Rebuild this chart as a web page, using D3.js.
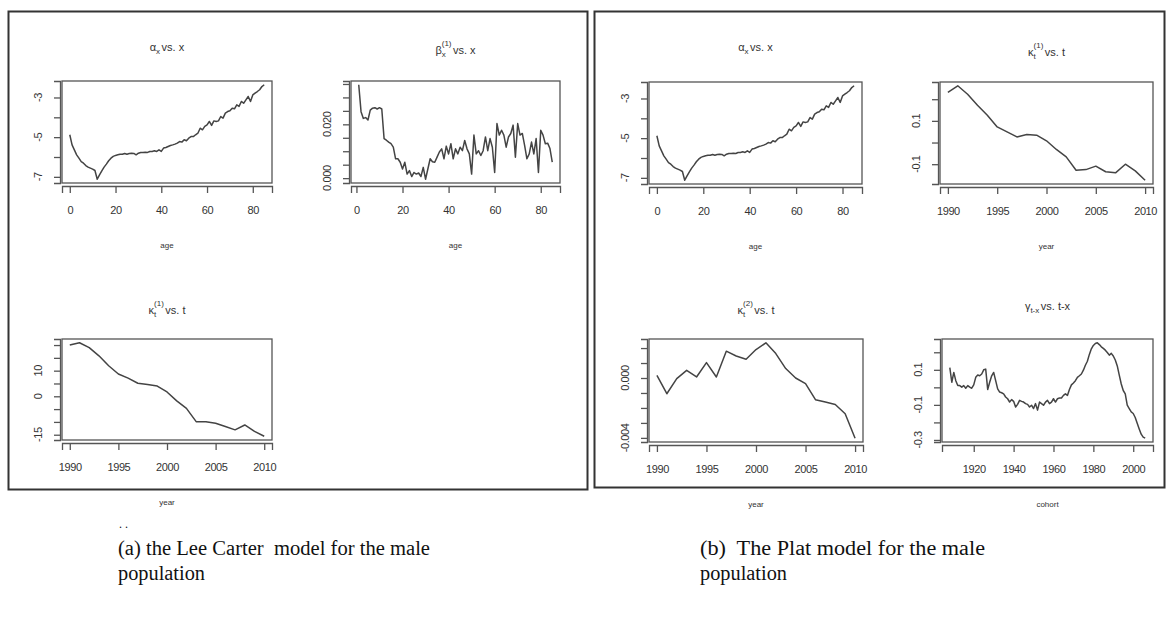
<!DOCTYPE html>
<html>
<head>
<meta charset="utf-8">
<script src="https://cdn.jsdelivr.net/npm/d3@7"></script>
<style>
  body { margin: 0; background: #fff; }
  text { font-family: "Liberation Sans", Arial, sans-serif; fill: #333; }
  .cap { font-family: "Liberation Serif", "Times New Roman", serif; fill: #111; white-space: pre; }
</style>
</head>
<body>
<div id="chart"></div>
<script>
const width = 1171, height = 619;

// ---- data ----
const ageTicks = [0, 20, 40, 60, 80];
const yearTicks = [1990, 1995, 2000, 2005, 2010];
const cohortTicks = [1920, 1940, 1960, 1980, 2000];

const ages0 = d3.range(0, 86);     // alpha: ages 0..85
const ages1 = d3.range(1, 86);     // beta: ages 1..85
const years = d3.range(1990, 2011);
const cohorts = d3.range(1908, 2007);

const alphaX = [
  -4.88,-5.39,-5.64,-5.89,-6.06,-6.23,-6.31,-6.43,-6.51,-6.56,
  -6.61,-6.68,-7.12,-6.90,-6.70,-6.51,-6.36,-6.19,-6.06,-5.97,
  -5.92,-5.89,-5.86,-5.86,-5.82,-5.86,-5.82,-5.81,-5.82,-5.89,
  -5.81,-5.77,-5.77,-5.76,-5.77,-5.72,-5.72,-5.69,-5.72,-5.64,
  -5.72,-5.55,-5.52,-5.47,-5.42,-5.39,-5.35,-5.30,-5.22,-5.25,
  -5.13,-5.18,-5.05,-4.97,-4.97,-4.88,-4.80,-4.55,-4.63,-4.46,
  -4.38,-4.21,-4.41,-4.18,-4.21,-4.18,-3.96,-4.04,-3.79,-3.71,
  -3.67,-3.54,-3.57,-3.37,-3.45,-3.20,-3.29,-3.12,-2.95,-3.20,
  -2.87,-2.78,-2.70,-2.61,-2.45,-2.36
];

const betaX = [
  0.0347,0.0247,0.0222,0.0225,0.0216,0.0253,0.0260,0.0262,0.0257,0.0262,
  0.0257,0.0147,0.0141,0.0134,0.0128,0.0115,0.0072,0.0072,0.0059,0.0034,
  0.0059,0.0015,0.0028,0.0006,0.0021,0.0015,0.0019,0.0006,0.0040,-0.0004,
  0.0034,0.0072,0.0061,0.0059,0.0078,0.0097,0.0109,0.0072,0.0119,0.0090,
  0.0128,0.0072,0.0109,0.0090,0.0115,0.0102,0.0140,0.0109,0.0090,0.0015,
  0.0160,0.0090,0.0102,0.0084,0.0102,0.0153,0.0102,0.0147,0.0115,0.0021,
  0.0203,0.0160,0.0178,0.0160,0.0115,0.0153,0.0166,0.0197,0.0078,0.0203,
  0.0160,0.0166,0.0122,0.0072,0.0090,0.0134,0.0090,0.0147,0.0021,0.0178,
  0.0160,0.0128,0.0130,0.0110,0.0060
];

const kappaLC = [20.0,20.9,19.0,15.8,11.9,8.7,7.1,5.1,4.6,4.0,1.7,
  -1.8,-4.7,-9.9,-9.9,-10.5,-11.8,-13.1,-11.2,-13.7,-15.6];

const kappa1Plat = [0.231,0.262,0.223,0.172,0.126,0.072,0.049,0.026,0.037,0.034,0.008,
  -0.032,-0.066,-0.128,-0.125,-0.109,-0.135,-0.140,-0.100,-0.131,-0.174];

const kappa2Plat = [0.00018,-0.00105,-0.00004,0.00051,0.00007,0.00103,0.00007,0.00179,
  0.00147,0.00125,0.00190,0.00235,0.00163,0.00063,0.00000,-0.00038,-0.00145,-0.00161,
  -0.00177,-0.00239,-0.00402];

const gammaPlat = [
  0.113,0.029,0.085,0.038,0.010,0.010,0.001,0.010,-0.005,0.010,   // 1908-1917
  0.001,-0.005,0.014,0.057,0.070,0.066,0.076,0.100,0.104,-0.012,  // 1918-1927
  0.029,0.066,0.085,0.038,-0.009,-0.027,-0.031,-0.037,-0.055,-0.065, // 1928-1937
  -0.084,-0.070,-0.080,-0.112,-0.097,-0.074,-0.080,-0.084,-0.093,-0.097, // 1938-1947
  -0.112,-0.102,-0.121,-0.093,-0.130,-0.084,-0.093,-0.102,-0.084,-0.074, // 1948-1957
  -0.093,-0.084,-0.065,-0.084,-0.065,-0.061,-0.061,-0.046,-0.037,-0.046, // 1958-1967
  -0.012,0.014,0.025,0.038,0.057,0.066,0.076,0.098,0.126,0.149,   // 1968-1977
  0.188,0.220,0.239,0.250,0.254,0.244,0.231,0.222,0.212,0.199,    // 1978-1987
  0.184,0.194,0.179,0.156,0.122,0.070,0.019,-0.018,-0.037,-0.102, // 1988-1997
  -0.121,-0.140,-0.149,-0.172,-0.205,-0.237,-0.267,-0.284,-0.290  // 1998-2006
];

const svg = d3.select("#chart").append("svg")
  .attr("width", width).attr("height", height)
  .attr("viewBox", [0, 0, width, height]);

svg.append("rect").attr("width", width).attr("height", height).attr("fill", "#fff");

// outer frames
svg.append("rect").attr("x", 8.5).attr("y", 11.5).attr("width", 579).attr("height", 478)
  .attr("fill", "none").attr("stroke", "#333").attr("stroke-width", 2);
svg.append("rect").attr("x", 594.5).attr("y", 11.5).attr("width", 570).attr("height", 476)
  .attr("fill", "none").attr("stroke", "#333").attr("stroke-width", 2);

// R-like 4% padded domain
function pad(ext) {
  const p = (ext[1] - ext[0]) * 0.04;
  return [ext[0] - p, ext[1] + p];
}

function drawTitle(g, cx, y, sym, sub, sup, rest) {
  const t = g.append("g");
  const s = t.append("text").attr("x", 0).attr("y", y).attr("font-size", 11).text(sym);
  const w = s.node().getComputedTextLength();
  let sw = 0;
  if (sub) {
    const st = t.append("text").attr("x", w).attr("y", y + 3).attr("font-size", 8).text(sub);
    sw = st.node().getComputedTextLength();
  }
  if (sup) {
    const sp = t.append("text").attr("x", w).attr("y", y - 8).attr("font-size", 8).text(sup);
    sw = Math.max(sw, sp.node().getComputedTextLength());
  }
  const r = t.append("text").attr("x", w + sw + 1.5).attr("y", y).attr("font-size", 11).text(rest);
  const total = w + sw + 1.5 + r.node().getComputedTextLength();
  t.attr("transform", `translate(${cx - total / 2},0)`);
}

function panel(cfg) {
  const { x0, x1, y0, y1 } = cfg;
  const g = svg.append("g");
  const x = d3.scaleLinear().domain(pad(d3.extent(cfg.xs))).range([x0, x1]);
  const y = d3.scaleLinear().domain(pad(d3.extent(cfg.ys))).range([y1, y0]);

  g.append("path")
    .datum(cfg.xs.map((d, i) => [d, cfg.ys[i]]))
    .attr("d", d3.line().x(d => x(d[0])).y(d => y(d[1])))
    .attr("fill", "none").attr("stroke", "#444").attr("stroke-width", 1.5)
    .attr("stroke-linejoin", "round");

  g.append("rect").attr("x", x0).attr("y", y0).attr("width", x1 - x0).attr("height", y1 - y0)
    .attr("fill", "none").attr("stroke", "#555").attr("stroke-width", 1.3);

  // x axis
  const xa = g.append("g").attr("transform", `translate(0,${y1 + 3})`)
    .call(d3.axisBottom(x).tickValues(cfg.xTicks).tickFormat(d3.format("d")).tickSize(7).tickPadding(13));
  xa.select(".domain").attr("stroke", "#555").attr("stroke-width", 1.3);
  xa.selectAll(".tick line").attr("stroke", "#555").attr("stroke-width", 1.3);
  xa.selectAll(".tick text").attr("font-size", 11).attr("fill", "#333")
    .attr("font-family", "Liberation Sans, Arial, sans-serif").attr("letter-spacing", -0.4);

  // y axis
  const ya = g.append("g").attr("transform", `translate(${x0 - 2},0)`)
    .call(d3.axisLeft(y).tickValues(cfg.yTicks).tickFormat("").tickSize(6));
  ya.select(".domain").attr("stroke", "#555").attr("stroke-width", 1.3);
  ya.selectAll(".tick line").attr("stroke", "#555").attr("stroke-width", 1.3);
  cfg.yLabels.forEach(([v, lab]) => {
    g.append("text")
      .attr("transform", `translate(${x0 - 20},${y(v)}) rotate(-90)`)
      .attr("text-anchor", "middle").attr("font-size", 11).attr("letter-spacing", -0.4).text(lab);
  });

  g.append("text").attr("x", (x0 + x1) / 2).attr("y", y1 + 65)
    .attr("text-anchor", "middle").attr("font-size", 8).text(cfg.xlab);

  drawTitle(g, (x0 + x1) / 2, y0 - cfg.tOff, cfg.t[0], cfg.t[1], cfg.t[2], cfg.t[3]);
}

const alphaYTicks = [-7, -6, -5, -4, -3];
const alphaLabels = [[-7, "-7"], [-5, "-5"], [-3, "-3"]];

panel({ x0: 62, x1: 272, y0: 81, y1: 183, xs: ages0, ys: alphaX, xTicks: ageTicks,
  yTicks: alphaYTicks, yLabels: alphaLabels, xlab: "age", t: ["α", "x", null, "vs. x"], tOff: 30 });

panel({ x0: 351, x1: 560, y0: 81, y1: 183, xs: ages1, ys: betaX, xTicks: ageTicks,
  yTicks: [0, 0.005, 0.01, 0.015, 0.02, 0.025, 0.03, 0.035],
  yLabels: [[0, "0.000"], [0.02, "0.020"]], xlab: "age", t: ["β", "x", "(1)", "vs. x"], tOff: 27 });

panel({ x0: 62, x1: 272, y0: 339, y1: 440, xs: years, ys: kappaLC, xTicks: yearTicks,
  yTicks: [-15, -10, -5, 0, 5, 10, 15, 20],
  yLabels: [[-15, "-15"], [0, "0"], [10, "10"]], xlab: "year", t: ["κ", "t", "(1)", "vs. t"], tOff: 25 });

panel({ x0: 649, x1: 862, y0: 82, y1: 184, xs: ages0, ys: alphaX, xTicks: ageTicks,
  yTicks: alphaYTicks, yLabels: alphaLabels, xlab: "age", t: ["α", "x", null, "vs. x"], tOff: 31 });

panel({ x0: 940, x1: 1153, y0: 82, y1: 184, xs: years, ys: kappa1Plat, xTicks: yearTicks,
  yTicks: [-0.1, 0, 0.1, 0.2],
  yLabels: [[-0.1, "-0.1"], [0.1, "0.1"]], xlab: "year", t: ["κ", "t", "(1)", "vs. t"], tOff: 26 });

panel({ x0: 649, x1: 863, y0: 339, y1: 442, xs: years, ys: kappa2Plat, xTicks: yearTicks,
  yTicks: [-0.004, -0.003, -0.002, -0.001, 0, 0.001, 0.002],
  yLabels: [[-0.004, "-0.004"], [0, "0.000"]], xlab: "year", t: ["κ", "t", "(2)", "vs. t"], tOff: 25 });

panel({ x0: 942, x1: 1153, y0: 339, y1: 442, xs: cohorts, ys: gammaPlat, xTicks: cohortTicks,
  yTicks: [-0.3, -0.2, -0.1, 0, 0.1, 0.2],
  yLabels: [[-0.3, "-0.3"], [-0.1, "-0.1"], [0.1, "0.1"]], xlab: "cohort", t: ["γ", "t-x", null, "vs. t-x"], tOff: 29 });

// captions
function caption(x, y, txt, len) {
  svg.append("text").attr("class", "cap").attr("x", x).attr("y", y).attr("font-size", 20)
    .attr("textLength", len).attr("lengthAdjust", "spacingAndGlyphs").text(txt);
}
svg.append("text").attr("class", "cap").attr("x", 119).attr("y", 528).attr("font-size", 12).text(". .");
caption(118, 555, "(a) the Lee Carter  model for the male", 312);
caption(118, 580, "population", 87);
caption(700, 555, "(b)  The Plat model for the male", 285);
caption(700, 580, "population", 87);
</script>
</body>
</html>
